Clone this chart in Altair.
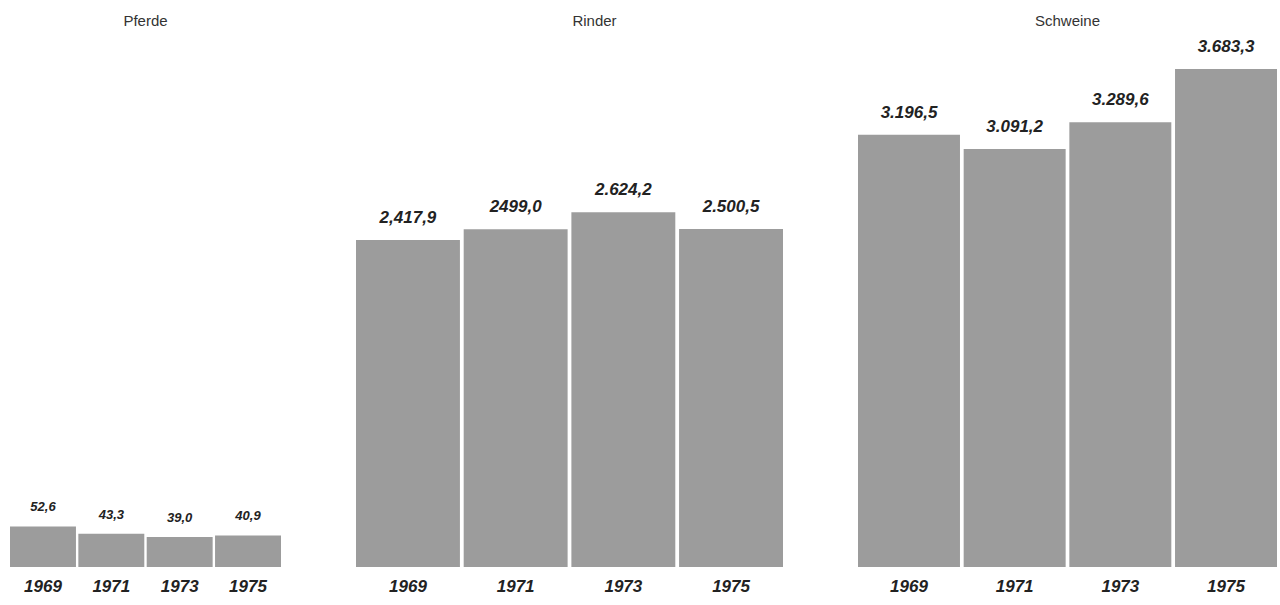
import altair as alt
import pandas as pd

# Livestock numbers (in thousands) per census year
years = ["1969", "1971", "1973", "1975"]

pferde = [52.6, 43.3, 39.0, 40.9]
pferde_labels = ["52,6", "43,3", "39,0", "40,9"]

rinder = [2417.9, 2499.0, 2624.2, 2500.5]
rinder_labels = ["2,417,9", "2499,0", "2.624,2", "2.500,5"]

schweine = [3196.5, 3091.2, 3289.6, 3683.3]
schweine_labels = ["3.196,5", "3.091,2", "3.289,6", "3.683,3"]

BAR_COLOR = "#9c9c9c"
LABEL_FONT = "Liberation Sans Narrow, Liberation Sans, DejaVu Sans"
PLOT_H = 534


def panel(title, values, labels, width, ymax, label_size, label_dy, title_dx=0):
    df = pd.DataFrame({"Jahr": years, "Wert": values, "Label": labels})
    x = alt.X(
        "Jahr:N",
        sort=years,
        scale=alt.Scale(paddingInner=0.035, paddingOuter=0),
        axis=alt.Axis(
            title=None,
            labelAngle=0,
            domain=False,
            ticks=False,
            labelPadding=11,
            labelFontSize=17,
            labelFont=LABEL_FONT,
            labelFontStyle="italic",
            labelFontWeight="bold",
            labelColor="#222222",
        ),
    )
    y = alt.Y("Wert:Q", scale=alt.Scale(domain=[0, ymax]), axis=None)
    base = alt.Chart(df)
    bars = base.mark_bar(color=BAR_COLOR).encode(x=x, y=y)
    text = base.mark_text(
        dy=label_dy,
        font=LABEL_FONT,
        fontSize=label_size,
        fontStyle="italic",
        fontWeight="bold",
        color="#222222",
    ).encode(x=x, y=y, text="Label:N")
    return (bars + text).properties(
        width=width,
        height=PLOT_H,
        title=alt.TitleParams(
            title,
            fontSize=15,
            fontWeight="normal",
            font="Liberation Sans",
            color="#333333",
            offset=4,
            dx=title_dx,
        ),
    )


chart = (
    alt.hconcat(
        panel("Pferde", pferde, pferde_labels, 271, 693, 13, -19),
        panel("Rinder", rinder, rinder_labels, 427, 3950, 17, -22, title_dx=25),
        panel("Schweine", schweine, schweine_labels, 419, 3950, 17, -22),
        spacing=75,
        bounds="flush",
    )
    .configure_view(stroke=None)
    .properties(padding={"left": 10, "top": 14, "right": 0, "bottom": 0}, background="white")
)

chart.save("out.html", embed_options={"renderer": "svg", "actions": False})
